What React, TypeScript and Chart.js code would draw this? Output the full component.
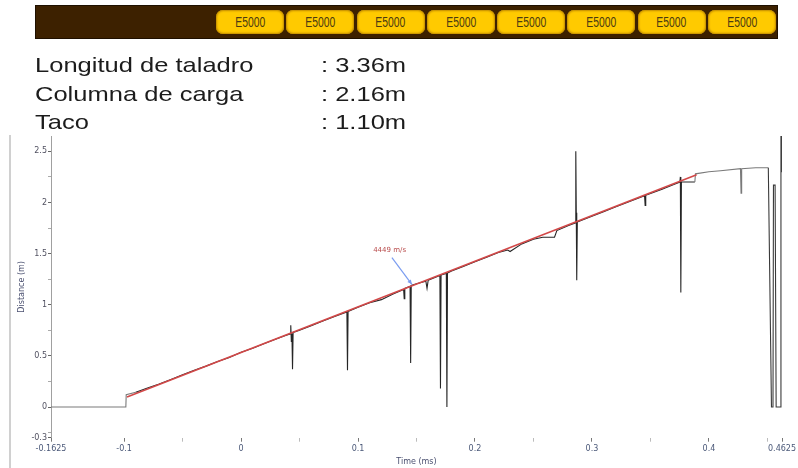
import React, { useEffect, useRef } from "react";
import { Chart, registerables } from "chart.js";

Chart.register(...registerables);

// ---------- data ----------
const cartridgeLabels = ["E5000", "E5000", "E5000", "E5000", "E5000", "E5000", "E5000", "E5000"];
const infoLabels = ["Longitud de taladro", "Columna de carga", "Taco"];
const infoValues = [": 3.36m", ": 2.16m", ": 1.10m"];

const traceTime = [
  -0.1625, -0.0985, -0.0982, -0.09, -0.08, -0.07, -0.06, -0.05, -0.04, -0.03, -0.02, -0.01,
  0, 0.01, 0.02, 0.03, 0.038, 0.042, 0.0425, 0.043, 0.0435, 0.044, 0.0445, 0.05, 0.06, 0.07,
  0.08, 0.0905, 0.091, 0.0915, 0.1, 0.11, 0.12, 0.13, 0.139, 0.1395, 0.14, 0.1445, 0.145,
  0.1455, 0.15, 0.158, 0.159, 0.16, 0.17, 0.1705, 0.171, 0.1755, 0.176, 0.1765, 0.18, 0.19,
  0.2, 0.21, 0.22, 0.228, 0.23, 0.24, 0.25, 0.258, 0.268, 0.27, 0.28, 0.2858, 0.2862, 0.2866,
  0.287, 0.2875, 0.3, 0.31, 0.32, 0.33, 0.345, 0.3455, 0.346, 0.36, 0.37, 0.3752, 0.3756,
  0.376, 0.3765, 0.388, 0.3885, 0.4, 0.41, 0.427, 0.4275, 0.428, 0.44, 0.4508, 0.4535,
  0.4548, 0.4552, 0.4566, 0.4575, 0.4612, 0.4616, 0.4618, 0.462,
];
const traceDistance = [
  0, 0, 0.12, 0.145, 0.185, 0.225, 0.27, 0.315, 0.36, 0.4, 0.445, 0.485,
  0.535, 0.575, 0.62, 0.665, 0.7, 0.715, 0.8, 0.64, 0.72, 0.37, 0.73, 0.75, 0.795, 0.84,
  0.885, 0.93, 0.36, 0.935, 0.975, 1.02, 1.05, 1.105, 1.15, 1.06, 1.16, 1.18, 0.43,
  1.19, 1.205, 1.23, 1.16, 1.24, 1.285, 0.18, 1.29, 1.305, 0.0, 1.31, 1.33, 1.375,
  1.42, 1.465, 1.51, 1.535, 1.52, 1.595, 1.64, 1.66, 1.66, 1.725, 1.775, 1.8, 2.5, 1.9,
  1.24, 1.81, 1.865, 1.91, 1.955, 2.0, 2.065, 1.97, 2.07, 2.13, 2.175, 2.2, 2.25,
  1.12, 2.2, 2.2, 2.28, 2.3, 2.31, 2.33, 2.09, 2.33, 2.34, 2.34, 0,
  0, 2.17, 2.17, 0, 0, 2.65, 2.3, 2.65,
];

const fitTime = [-0.0975, 0.3895];
const fitDistance = [0.098, 2.27];

const xTickValues = [-0.1625, -0.1, -0.05, 0, 0.05, 0.1, 0.15, 0.2, 0.25, 0.3, 0.35, 0.4, 0.45, 0.4625];
const xTickLabels = ["-0.1625", "-0.1", "", "0", "", "0.1", "", "0.2", "", "0.3", "", "0.4", "", "0.4625"];
const yTickValues = [-0.3, -0.25, 0, 0.25, 0.5, 0.75, 1, 1.25, 1.5, 1.75, 2, 2.25, 2.5];
const yTickLabels = ["-0.3", "", "0", "", "0.5", "", "1", "", "1.5", "", "2", "", "2.5"];

const velocityLabel = "4449 m/s";
const labelPoint = [0.127, 1.53];
const arrowFrom = [0.129, 1.46];
const arrowTo = [0.146, 1.2];

// ---------- annotation plugin ----------
const annotationPlugin = {
  id: "velocityAnnotation",
  afterDatasetsDraw(chart: any) {
    const { ctx, scales } = chart;
    const xs = scales.x;
    const ys = scales.y;
    ctx.save();
    ctx.font = "7px 'DejaVu Sans'";
    ctx.fillStyle = "#b84a4a";
    ctx.textAlign = "center";
    ctx.textBaseline = "middle";
    ctx.fillText(velocityLabel, xs.getPixelForValue(labelPoint[0]), ys.getPixelForValue(labelPoint[1]));
    const x1 = xs.getPixelForValue(arrowFrom[0]);
    const y1 = ys.getPixelForValue(arrowFrom[1]);
    const x2 = xs.getPixelForValue(arrowTo[0]);
    const y2 = ys.getPixelForValue(arrowTo[1]);
    ctx.strokeStyle = "#7a9cf0";
    ctx.fillStyle = "#7a9cf0";
    ctx.lineWidth = 1.2;
    ctx.beginPath();
    ctx.moveTo(x1, y1);
    ctx.lineTo(x2, y2);
    ctx.stroke();
    const ang = Math.atan2(y2 - y1, x2 - x1);
    const hl = 5;
    ctx.beginPath();
    ctx.moveTo(x2, y2);
    ctx.lineTo(x2 - hl * Math.cos(ang - 0.45), y2 - hl * Math.sin(ang - 0.45));
    ctx.lineTo(x2 - hl * Math.cos(ang + 0.45), y2 - hl * Math.sin(ang + 0.45));
    ctx.closePath();
    ctx.fill();
    ctx.restore();
  },
};

const tickFont = { family: "'DejaVu Sans'", size: 8 };

export default function App() {
  const canvasRef = useRef<HTMLCanvasElement | null>(null);

  useEffect(() => {
    if (!canvasRef.current) return;
    const chart = new Chart(canvasRef.current, {
      type: "line",
      data: {
        datasets: [
          {
            label: "fit",
            data: fitTime.map((t, i) => ({ x: t, y: fitDistance[i] })),
            borderColor: "#d24848",
            borderWidth: 1.6,
            pointRadius: 0,
            tension: 0,
          },
          {
            label: "trace",
            data: traceTime.map((t, i) => ({ x: t, y: traceDistance[i] })),
            borderColor: "#262626",
            borderWidth: 1.1,
            pointRadius: 0,
            tension: 0,
            segment: {
              borderColor: (c: any) => {
                const x0 = c.p0.parsed.x;
                if (x0 >= 0.4505) return "#3a3a3a";
                if (x0 < -0.098 || x0 >= 0.388) return "#7a7a7a";
                return "#262626";
              },
            },
          },
        ],
      },
      options: {
        animation: false,
        responsive: false,
        maintainAspectRatio: false,
        events: [],
        layout: { padding: { top: 136, right: 16, left: 0, bottom: 0 } },
        plugins: {
          legend: { display: false },
          tooltip: { enabled: false },
          title: { display: false },
        },
        scales: {
          x: {
            type: "linear",
            min: -0.1625,
            max: 0.4625,
            afterBuildTicks: (axis: any) => {
              axis.ticks = xTickValues.map((v) => ({ value: v }));
            },
            afterFit: (s: any) => {
              s.height = 30.3;
            },
            border: { display: false },
            grid: {
              drawOnChartArea: false,
              drawTicks: true,
              tickLength: 4,
              color: (c: any) => (xTickLabels[c.index] ? "#777" : "#bbb"),
            },
            ticks: {
              autoSkip: false,
              maxRotation: 0,
              minRotation: 0,
              padding: 2,
              font: tickFont,
              color: "#4a5878",
              callback: (_v: any, i: number) => xTickLabels[i],
            },
            title: {
              display: true,
              text: "Time (ms)",
              font: tickFont,
              color: "#4a5070",
              padding: { top: 0, bottom: 1 },
            },
          },
          y: {
            type: "linear",
            min: -0.3,
            max: 2.65,
            afterBuildTicks: (axis: any) => {
              axis.ticks = yTickValues.map((v) => ({ value: v }));
            },
            afterFit: (s: any) => {
              s.width = 51;
            },
            border: { display: true, color: "#a0a0a0", width: 1 },
            grid: {
              drawOnChartArea: false,
              drawTicks: true,
              tickLength: 3,
              color: (c: any) => (yTickLabels[c.index] ? "#666" : "#aaa"),
            },
            ticks: {
              autoSkip: false,
              padding: 1,
              font: tickFont,
              color: "#505060",
              callback: (_v: any, i: number) => yTickLabels[i],
            },
            title: {
              display: true,
              text: "Distance (m)",
              font: tickFont,
              color: "#4a5070",
              padding: { top: 17, bottom: 0 },
            },
          },
        },
      },
      plugins: [annotationPlugin],
    } as any);
    return () => chart.destroy();
  }, []);

  return (
    <div
      style={{
        position: "absolute",
        left: 0,
        top: 0,
        width: 798,
        height: 468,
        background: "#ffffff",
        overflow: "hidden",
      }}
    >
      <canvas
        ref={canvasRef}
        width={798}
        height={468}
        style={{ position: "absolute", left: 0, top: 0, width: 798, height: 468 }}
      />
      {/* left border of inserted chart image */}
      <div
        style={{ position: "absolute", left: 9, top: 135, width: 2, height: 333, background: "#d0d0d0" }}
      />
      {/* explosive column banner */}
      <div
        style={{
          position: "absolute",
          left: 35,
          top: 5,
          width: 743,
          height: 34,
          boxSizing: "border-box",
          background: "#3d2100",
          border: "1px solid #1e1000",
        }}
      />
      <div
        style={{
          position: "absolute",
          left: 215,
          top: 10,
          width: 562,
          height: 24,
          display: "flex",
        }}
      >
        {cartridgeLabels.map((c, i) => (
          <div
            key={i}
            style={{
              flex: 1,
              margin: "0 1.2px",
              background: "#ffca00",
              borderRadius: 7,
              boxShadow: "inset 0 0 2px 1px #c08a00",
              display: "flex",
              alignItems: "center",
              justifyContent: "center",
              overflow: "hidden",
            }}
          >
            <span
              style={{
                fontFamily: "'Liberation Sans', Arial, sans-serif",
                fontSize: 14,
                color: "#4a3a12",
                transform: "scaleX(0.74)",
                display: "inline-block",
                lineHeight: "14px",
              }}
            >
              {c}
            </span>
          </div>
        ))}
      </div>
      {/* info lines */}
      {infoLabels.map((t, i) => (
        <React.Fragment key={i}>
          <div
            style={{
              position: "absolute",
              left: 35,
              top: 53.3 + i * 28.2,
              fontFamily: "'Liberation Sans', Arial, sans-serif",
              fontSize: 21,
              lineHeight: "24px",
              color: "#1c1c1c",
              whiteSpace: "nowrap",
              transform: "scaleX(1.215)",
              transformOrigin: "left center",
            }}
          >
            {t}
          </div>
          <div
            style={{
              position: "absolute",
              left: 321,
              top: 53.3 + i * 28.2,
              fontFamily: "'Liberation Sans', Arial, sans-serif",
              fontSize: 21,
              lineHeight: "24px",
              color: "#1c1c1c",
              whiteSpace: "nowrap",
              transform: "scaleX(1.215)",
              transformOrigin: "left center",
            }}
          >
            {infoValues[i]}
          </div>
        </React.Fragment>
      ))}
    </div>
  );
}
